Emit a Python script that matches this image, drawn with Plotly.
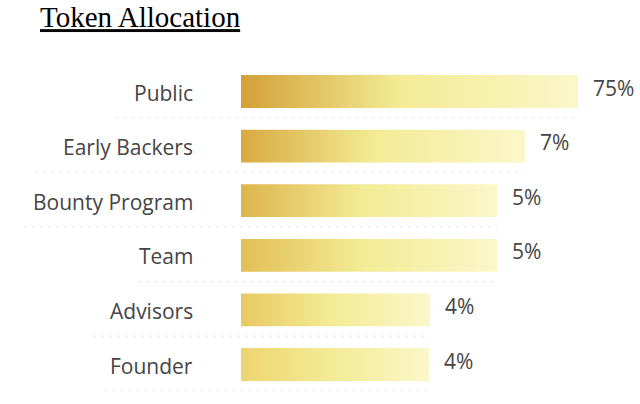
import plotly.graph_objects as go

# ---- data ----
categories = ["Public", "Early Backers", "Bounty Program", "Team", "Advisors", "Founder"]
percent_labels = ["75%", "7%", "5%", "5%", "4%", "4%"]
# displayed bar lengths as drawn in the picture (relative units)
bar_lengths = [337, 284, 256, 256, 189, 188]
# left-end colour of each bar's gradient
left_colors = ["#d3a036", "#d8aa3f", "#ddb44b", "#e2be56", "#e8c962", "#edd570"]
mid_color = "#f3eb94"
end_color = "#fbf7c9"

title_text = "Token Allocation"

fig = go.Figure()

bar_half = 0.30
label_color = "#454545"
label_font = "Open Sans"

for i, (cat, L, lc, pl) in enumerate(zip(categories, bar_lengths, left_colors, percent_labels)):
    # dashed separator below bar, from label start to bar end
    label_w = len(cat) * 11.5 + 8
    fig.add_trace(go.Scatter(
        x=[-48 - label_w, L], y=[i + 0.48, i + 0.48], mode="lines",
        line=dict(color="#e4e4e4", width=1, dash="3px,5px"),
        hoverinfo="skip", showlegend=False))
    # gradient bar
    fig.add_trace(go.Scatter(
        x=[0, L, L, 0, 0],
        y=[i - bar_half, i - bar_half, i + bar_half, i + bar_half, i - bar_half],
        mode="lines", line=dict(width=0), fill="toself",
        fillgradient=dict(type="horizontal",
                          colorscale=[[0, lc], [0.47, mid_color], [1, end_color]]),
        hoverinfo="skip", showlegend=False))
    # category label
    fig.add_annotation(x=0, y=i, xref="x", yref="y", text=cat, showarrow=False,
                       xanchor="right", yanchor="middle", xshift=-46, yshift=-1,
                       font=dict(family=label_font, size=21, color=label_color))
    # value label
    fig.add_annotation(x=L, y=i, xref="x", yref="y", text=pl, showarrow=False,
                       xanchor="left", yanchor="middle", xshift=13, yshift=4,
                       font=dict(family=label_font, size=21, color=label_color))

fig.update_layout(
    title=dict(text="<u>" + title_text + "</u>", xref="container", yref="container",
               x=40 / 640, xanchor="left", y=1 - 17 / 404, yanchor="middle",
               font=dict(family="Liberation Serif", size=29, color="#000000")),
    width=640, height=404,
    margin=dict(l=0, r=0, t=0, b=0),
    paper_bgcolor="white", plot_bgcolor="white",
    xaxis=dict(range=[-241, 399], visible=False, fixedrange=True),
    yaxis=dict(range=[(404 - 91.5) / 54.6, -91.5 / 54.6], visible=False, fixedrange=True),
    showlegend=False,
)

fig.write_html("out.html")
